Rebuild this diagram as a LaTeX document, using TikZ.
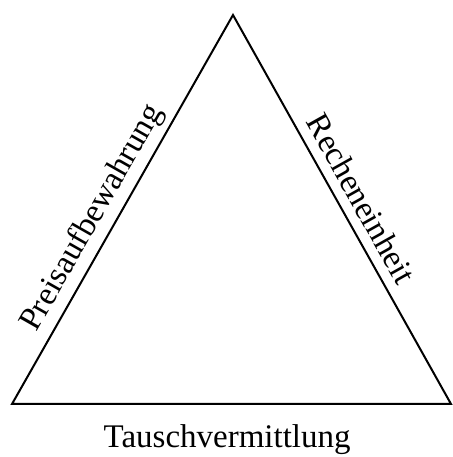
\documentclass[tikz,border=0pt]{standalone}
\usepackage{fontspec}
\setmainfont{Liberation Serif}
\usetikzlibrary{positioning}

\tikzset{sidetext/.style={font=\fontsize{33}{36}\selectfont, inner sep=3.3pt}}

\begin{document}
\begin{tikzpicture}[x=1pt, y=1pt]
    \useasboundingbox (0, 0) rectangle (452, 457);

    \coordinate (bl) at (12, 53);
    \coordinate (br) at (451, 53);
    \coordinate (tp) at (233, 442);

    \draw [line width=2pt, line join=miter]
        (bl) -- (tp) -- (br) -- cycle;

    \path (bl) -- (tp)
        node[sidetext, sloped, above=3pt, pos=0.45] (preis) {Preisaufbewahrung};
    \path (tp) -- (br)
        node[sidetext, sloped, above=7pt, pos=0.5] (rechen) {Recheneinheit};
    \path (bl) -- (br)
        node[sidetext, below=17pt, pos=0.49] (tausch) {Tauschvermittlung};
\end{tikzpicture}
\end{document}
